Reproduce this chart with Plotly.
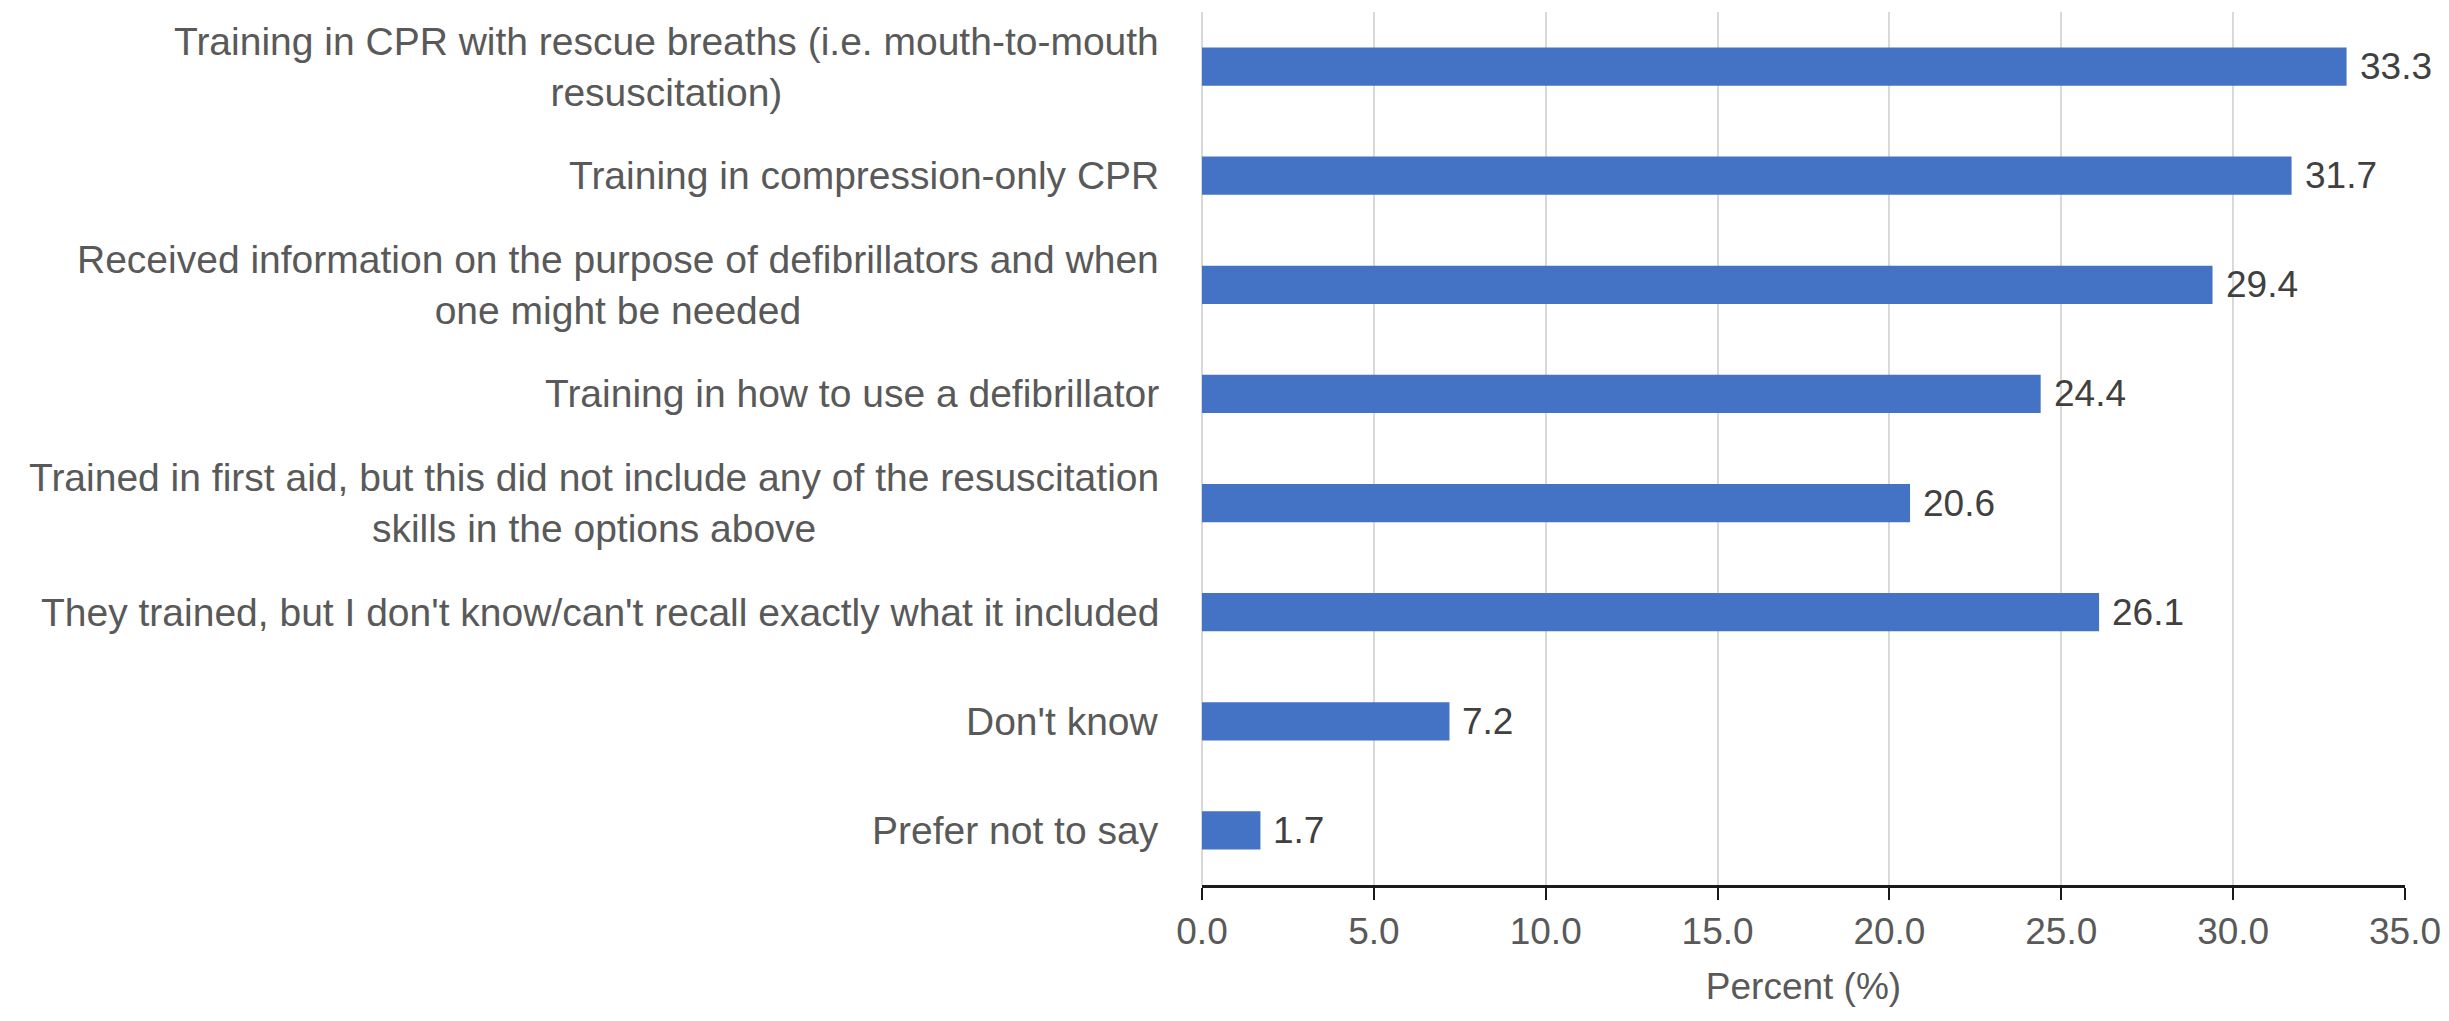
import plotly.graph_objects as go

categories = [
    "Training in CPR with rescue breaths (i.e. mouth-to-mouth<br>resuscitation)",
    "Training in compression-only CPR",
    "Received information on the purpose of defibrillators and when<br>one might be needed",
    "Training in how to use a defibrillator",
    "Trained in first aid, but this did not include any of the resuscitation<br>skills in the options above",
    "They trained, but I don't know/can't recall exactly what it included",
    "Don't know",
    "Prefer not to say",
]
values = [33.3, 31.7, 29.4, 24.4, 20.6, 26.1, 7.2, 1.7]
x_ticks = [0, 5, 10, 15, 20, 25, 30, 35]
x_title = "Percent (%)"

FONT = "Liberation Sans, Arial, sans-serif"
FS_CAT = 39
FS_NUM = 37

fig = go.Figure()
fig.add_trace(go.Bar(
    y=categories, x=values, orientation="h",
    marker=dict(color="#4472C4", line=dict(width=0)),
    width=0.35,
    hoverinfo="x+y",
))

for c, v in zip(categories, values):
    fig.add_annotation(
        x=0, xref="paper", xshift=-41, y=c, yref="y",
        text=c, showarrow=False, xanchor="right", yanchor="middle",
        align="center", font=dict(family=FONT, size=FS_CAT, color="#595959"),
    )
    fig.add_annotation(
        x=v, xref="x", xshift=11, y=c, yref="y",
        text=f"{v:.1f}", showarrow=False, xanchor="left", yanchor="middle",
        font=dict(family=FONT, size=FS_NUM, color="#404040"),
    )

# page body has an 8px default margin, so the figure is sized/offset to compensate
fig.update_layout(
    width=2441, height=1013,
    margin=dict(l=1194, r=44, t=4, b=136),
    paper_bgcolor="white", plot_bgcolor="white",
    showlegend=False,
    font=dict(family=FONT, size=FS_NUM, color="#595959"),
)
fig.update_xaxes(
    range=[0, 35], tickvals=x_ticks, tickformat=".1f",
    showgrid=True, gridcolor="#d9d9d9", gridwidth=2,
    zeroline=True, zerolinecolor="#d9d9d9", zerolinewidth=2,
    showline=True, linecolor="#1a1a1a", linewidth=3,
    ticks="outside", ticklen=12, tickwidth=2, tickcolor="#1a1a1a",
    tickfont=dict(family=FONT, size=FS_NUM, color="#595959"),
    title=dict(text=x_title, font=dict(family=FONT, size=FS_NUM, color="#595959"), standoff=22),
)
fig.update_yaxes(
    categoryorder="array", categoryarray=categories, autorange="reversed",
    showticklabels=False, showgrid=False, zeroline=False, showline=False, ticks="",
)

fig.write_html("out.html")
